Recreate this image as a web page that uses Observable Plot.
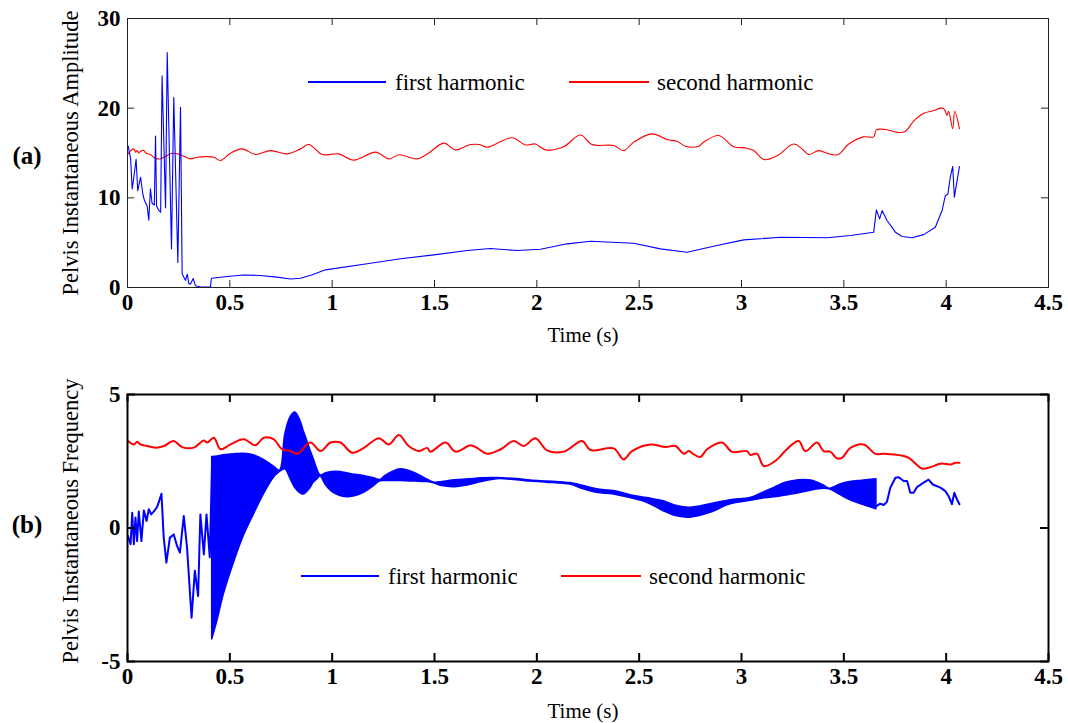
<!DOCTYPE html>
<html>
<head>
<meta charset="utf-8">
<script src="https://cdn.jsdelivr.net/npm/d3@7"></script>
<script src="https://cdn.jsdelivr.net/npm/@observablehq/plot@0.6"></script>
<style>
  html, body { margin: 0; padding: 0; background: #fff; }
  #wrap { position: relative; width: 1068px; height: 723px; background: #fff; overflow: hidden; }
  #wrap > .panel { position: absolute; left: 0; }
  #overlay { position: absolute; left: 0; top: 0; pointer-events: none; }
  #overlay text { font-family: "Liberation Serif", "Times New Roman", serif; fill: #000; }
</style>
</head>
<body>
<div id="wrap"></div>
<script>
// ---------------- data ----------------
const xTicks = [0, 0.5, 1, 1.5, 2, 2.5, 3, 3.5, 4, 4.5];
const ampTicks = [0, 10, 20, 30];
const freqTicks = [-5, 0, 5];
const seriesNames = ["first harmonic", "second harmonic"];

// (a) instantaneous amplitude, first harmonic  [time s, amplitude]
const ampFirst = [
  [0.003,15.8],[0.015,14.4],[0.023,11.0],[0.031,12.3],[0.042,14.3],[0.05,10.8],[0.064,12.3],
  [0.075,10.4],[0.083,9.7],[0.096,9.1],[0.104,7.5],[0.112,11.0],[0.12,9.4],[0.131,9.2],
  [0.137,16.9],[0.142,9.1],[0.153,8.6],[0.162,8.4],[0.169,23.6],[0.186,8.9],[0.194,26.2],
  [0.215,4.3],[0.226,21.2],[0.246,2.8],[0.259,20.1],[0.267,1.5],[0.283,0.8],[0.292,1.5],
  [0.3,0.4],[0.308,0.4],[0.321,1.0],[0.332,0.2],[0.357,0.05],[0.405,0.05],[0.41,1.03],
  [0.486,1.23],[0.568,1.4],[0.649,1.34],[0.73,1.16],[0.796,0.94],[0.845,1.03],[0.9,1.4],
  [0.967,1.97],[1.171,2.64],[1.334,3.2],[1.497,3.64],[1.66,4.12],[1.773,4.35],[1.904,4.12],
  [2.018,4.27],[2.148,4.87],[2.262,5.16],[2.473,4.94],[2.604,4.31],[2.734,3.94],[2.88,4.68],
  [3.011,5.31],[3.19,5.6],[3.418,5.54],[3.532,5.8],[3.646,6.17],[3.659,8.66],[3.675,7.65],
  [3.687,8.58],[3.711,7.47],[3.752,6.17],[3.785,5.69],[3.833,5.54],[3.89,5.9],[3.947,6.72],
  [3.98,8.58],[3.996,10.26],[4.008,10.4],[4.02,12.3],[4.032,13.5],[4.04,10.07],[4.065,13.5]
];

// (a) instantaneous amplitude, second harmonic
const ampSecond = [
  [0.003,14.9],[0.015,15.27],[0.031,15.46],[0.04,15.1],[0.047,15.27],[0.055,15.0],[0.063,15.2],
  [0.08,15.27],[0.09,15.0],[0.112,14.83],[0.137,14.4],[0.161,14.35],[0.178,14.53],[0.218,14.97],
  [0.259,14.8],[0.308,14.35],[0.34,14.53],[0.389,14.6],[0.422,14.53],[0.454,14.16],[0.503,14.97],
  [0.56,15.46],[0.625,14.83],[0.699,15.27],[0.78,14.9],[0.845,15.46],[0.886,15.94],[0.951,14.83],
  [1.032,14.9],[1.106,14.2],[1.212,15.1],[1.277,14.35],[1.326,14.8],[1.415,14.35],[1.472,15.0],
  [1.545,16.1],[1.602,15.35],[1.676,15.94],[1.72,15.94],[1.757,15.64],[1.879,16.7],[1.944,15.9],
  [1.993,16.0],[2.042,15.35],[2.131,15.7],[2.213,17.0],[2.27,15.94],[2.376,15.83],[2.425,15.27],
  [2.473,16.2],[2.563,17.13],[2.636,16.5],[2.685,16.3],[2.726,15.75],[2.791,15.75],[2.815,16.2],
  [2.889,16.95],[2.962,15.7],[3.019,15.57],[3.06,15.27],[3.109,14.27],[3.174,14.7],[3.255,16.0],
  [3.296,15.46],[3.328,14.83],[3.377,15.27],[3.418,14.97],[3.47,14.8],[3.524,16.0],[3.597,16.8],
  [3.646,16.8],[3.659,17.58],[3.711,17.6],[3.76,17.3],[3.8,17.4],[3.841,18.55],[3.89,19.43],
  [3.939,19.73],[3.972,20.0],[3.99,19.9],[4.004,19.2],[4.012,19.66],[4.032,17.7],[4.042,19.66],
  [4.065,17.7]
];

// (b) instantaneous frequency, first harmonic: thin start and end parts
const freqFirstStart = [
  [0.002,-0.3],[0.015,-0.61],[0.023,0.57],[0.031,-0.61],[0.039,0.39],[0.047,-0.49],[0.055,0.62],
  [0.068,-0.49],[0.08,0.66],[0.093,0.26],[0.104,0.7],[0.116,0.51],[0.129,0.62],[0.145,0.79],
  [0.166,1.28],[0.177,-0.36],[0.19,-1.3],[0.207,-0.36],[0.226,-0.24],[0.242,-0.67],[0.256,-0.92],
  [0.275,0.45],[0.291,-0.74],[0.313,-3.36],[0.329,-1.6],[0.345,-2.55],[0.356,0.51],[0.373,-0.99],
  [0.386,0.51],[0.402,-1.1],[0.414,2.66]
];
const freqFirstEnd = [
  [3.659,0.82],[3.678,0.91],[3.695,0.86],[3.711,0.99],[3.727,1.51],[3.752,1.88],[3.768,1.9],
  [3.792,1.76],[3.809,1.76],[3.825,1.32],[3.841,1.32],[3.857,1.53],[3.89,1.7],[3.914,1.81],
  [3.935,1.63],[3.972,1.51],[3.996,1.38],[4.012,1.19],[4.028,0.89],[4.04,1.32],[4.053,1.07],
  [4.065,0.89]
];
// (b) first harmonic, fast-oscillating part: [time, lower envelope, upper envelope]
const freqFirstBand = [
  [0.414,-4.17,2.66],[0.44,-3.45,2.68],[0.47,-2.5,2.72],[0.52,-1.3,2.76],[0.568,-0.3,2.78],
  [0.617,0.5,2.72],[0.666,1.26,2.55],[0.715,1.88,2.3],[0.745,2.1,2.15],[0.771,2.2,3.5],
  [0.796,1.85,4.13],[0.82,1.5,4.32],[0.845,1.3,4.0],[0.862,1.26,3.6],[0.878,1.35,3.26],
  [0.894,1.5,2.9],[0.91,1.7,2.57],[0.927,1.82,2.2],[0.943,1.93,1.97],[0.97,1.6,2.05],
  [1.0,1.35,2.1],[1.04,1.2,2.1],[1.089,1.16,2.02],[1.155,1.32,1.95],[1.204,1.57,1.86],
  [1.236,1.75,1.8],[1.26,1.76,1.95],[1.334,1.76,2.2],[1.4,1.74,2.07],[1.464,1.72,1.82],
  [1.497,1.68,1.7],[1.537,1.57,1.72],[1.6,1.53,1.79],[1.667,1.6,1.82],[1.73,1.72,1.86],
  [1.806,1.83,1.87],[1.9,1.79,1.83],[1.97,1.74,1.78],[2.05,1.7,1.74],[2.13,1.66,1.7],
  [2.163,1.63,1.68],[2.229,1.45,1.57],[2.294,1.32,1.45],[2.376,1.26,1.38],[2.457,1.12,1.23],
  [2.538,0.95,1.12],[2.62,0.63,1.0],[2.685,0.44,0.82],[2.75,0.39,0.76],[2.848,0.57,0.89],
  [2.946,0.89,1.04],[3.043,1.02,1.12],[3.1,1.1,1.3],[3.16,1.15,1.5],[3.22,1.22,1.7],
  [3.28,1.3,1.79],[3.34,1.4,1.78],[3.4,1.47,1.6],[3.43,1.45,1.47],[3.48,1.25,1.62],
  [3.53,1.05,1.72],[3.59,0.88,1.77],[3.659,0.7,1.82]
];

// (b) instantaneous frequency, second harmonic
const freqSecond = [
  [0.003,3.26],[0.031,3.13],[0.047,3.23],[0.063,3.13],[0.096,3.07],[0.137,3.01],[0.178,3.07],
  [0.226,3.26],[0.267,3.03],[0.324,3.01],[0.373,3.28],[0.389,3.2],[0.422,3.38],[0.454,2.95],
  [0.503,3.13],[0.568,3.32],[0.625,3.1],[0.666,3.38],[0.715,3.32],[0.755,2.95],[0.796,2.88],
  [0.829,2.78],[0.894,3.2],[0.943,2.88],[0.992,3.2],[1.04,3.2],[1.098,2.82],[1.155,3.0],
  [1.228,3.36],[1.277,3.13],[1.326,3.48],[1.374,3.07],[1.423,2.88],[1.464,3.0],[1.48,2.86],
  [1.554,3.2],[1.603,2.86],[1.676,3.1],[1.708,3.0],[1.757,2.78],[1.822,2.94],[1.887,3.26],
  [1.936,3.07],[1.993,3.36],[2.05,2.91],[2.132,2.86],[2.221,3.26],[2.262,2.92],[2.376,2.98],
  [2.424,2.57],[2.465,2.88],[2.555,3.13],[2.628,3.03],[2.677,3.07],[2.718,2.78],[2.742,2.88],
  [2.767,2.76],[2.799,2.66],[2.832,2.95],[2.905,3.2],[2.954,2.85],[3.027,2.88],[3.043,2.74],
  [3.076,2.78],[3.109,2.32],[3.165,2.51],[3.222,2.95],[3.279,3.26],[3.312,2.88],[3.369,3.2],
  [3.401,2.88],[3.434,2.86],[3.466,2.61],[3.491,2.63],[3.532,3.0],[3.597,3.13],[3.654,2.78],
  [3.695,2.78],[3.809,2.66],[3.882,2.23],[3.923,2.28],[3.972,2.41],[4.021,2.38],[4.045,2.44],
  [4.065,2.44]
];

const BLUE = "#0000ff", RED = "#ff0000";

// ---------------- layout ----------------
const W = 1068, ML = 127, MR = 20;
const wrap = document.getElementById("wrap");

function inwardTicks(plotW, plotH, yTicks, stroke, sw, len) {
  return [
    Plot.ruleX(xTicks, {x: d => d, insetTop: plotH - len, stroke, strokeWidth: sw}),
    Plot.ruleX(xTicks, {x: d => d, insetBottom: plotH - len, stroke, strokeWidth: sw}),
    Plot.ruleY(yTicks, {y: d => d, insetRight: plotW - len, stroke, strokeWidth: sw}),
    Plot.ruleY(yTicks, {y: d => d, insetLeft: plotW - len, stroke, strokeWidth: sw})
  ];
}

const plotStyle = {
  fontFamily: "'Liberation Serif', 'Times New Roman', serif",
  fontSize: "23px",
  fontWeight: "bold",
  background: "transparent",
  color: "#000",
  overflow: "visible"
};

// Panel (a)
const HA = 350, MTA = 18, MBA = 63;
const plotA = Plot.plot({
  width: W, height: HA, marginLeft: ML, marginRight: MR, marginTop: MTA, marginBottom: MBA,
  style: plotStyle,
  x: {domain: [0, 4.5]},
  y: {domain: [0, 30]},
  marks: [
    Plot.line(ampSecond, {x: d => d[0], y: d => d[1], stroke: RED, strokeWidth: 1.1, curve: "catmull-rom"}),
    Plot.line(ampFirst, {x: d => d[0], y: d => d[1], stroke: BLUE, strokeWidth: 1.1}),
    Plot.frame({stroke: "#222", strokeWidth: 1}),
    ...inwardTicks(W - ML - MR, HA - MTA - MBA, ampTicks, "#222", 1, 7),
    Plot.axisX({ticks: xTicks, tickSize: 0, tickPadding: 6, tickFormat: d => String(d), label: null}),
    Plot.axisY({ticks: ampTicks, tickSize: 0, tickPadding: 7, tickFormat: d => String(d), label: null})
  ]
});
plotA.classList.add("panel");
plotA.style.top = "0px";
wrap.appendChild(plotA);

// Panel (b)
const TOPB = 360, HB = 363, MTB = 34, MBB = 62;
const plotB = Plot.plot({
  width: W, height: HB, marginLeft: ML, marginRight: MR, marginTop: MTB, marginBottom: MBB,
  style: plotStyle,
  x: {domain: [0, 4.5]},
  y: {domain: [-5, 5]},
  marks: [
    Plot.areaY(freqFirstBand, {x: d => d[0], y1: d => d[1], y2: d => d[2], fill: BLUE,
      stroke: BLUE, strokeWidth: 1.6, curve: "catmull-rom"}),
    Plot.line(freqFirstStart, {x: d => d[0], y: d => d[1], stroke: BLUE, strokeWidth: 2}),
    Plot.line(freqFirstEnd, {x: d => d[0], y: d => d[1], stroke: BLUE, strokeWidth: 2}),
    Plot.line(freqSecond, {x: d => d[0], y: d => d[1], stroke: RED, strokeWidth: 2, curve: "catmull-rom"}),
    Plot.frame({stroke: "#000", strokeWidth: 2}),
    ...inwardTicks(W - ML - MR, HB - MTB - MBB, freqTicks, "#000", 2, 8),
    Plot.axisX({ticks: xTicks, tickSize: 0, tickPadding: 6, tickFormat: d => String(d), label: null}),
    Plot.axisY({ticks: freqTicks, tickSize: 0, tickPadding: 7, tickFormat: d => String(d), label: null})
  ]
});
plotB.classList.add("panel");
plotB.style.top = TOPB + "px";
wrap.appendChild(plotB);

// ---------------- labels & legends (real text) ----------------
const ns = "http://www.w3.org/2000/svg";
const ov = document.createElementNS(ns, "svg");
ov.setAttribute("id", "overlay");
ov.setAttribute("width", W);
ov.setAttribute("height", 723);
wrap.appendChild(ov);

function txt(str, x, y, opts = {}) {
  const t = document.createElementNS(ns, "text");
  t.textContent = str;
  t.setAttribute("x", 0);
  t.setAttribute("y", 0);
  t.setAttribute("font-size", opts.size || 21);
  if (opts.bold) t.setAttribute("font-weight", "bold");
  t.setAttribute("text-anchor", opts.anchor || "start");
  t.setAttribute("transform", `translate(${x},${y})` + (opts.rotate ? ` rotate(${opts.rotate})` : ""));
  ov.appendChild(t);
}
function seg(x1, x2, y, color) {
  const l = document.createElementNS(ns, "line");
  l.setAttribute("x1", x1); l.setAttribute("x2", x2);
  l.setAttribute("y1", y); l.setAttribute("y2", y);
  l.setAttribute("stroke", color); l.setAttribute("stroke-width", 2);
  ov.appendChild(l);
}

txt("(a)", 27, 164, {size: 25, bold: true, anchor: "middle"});
txt("(b)", 27, 533, {size: 25, bold: true, anchor: "middle"});
txt("Pelvis Instantaneous Amplitude", 78, 153, {size: 22.5, anchor: "middle", rotate: -90});
txt("Pelvis Instantaneous Frequency", 78, 521, {size: 22.5, anchor: "middle", rotate: -90});
txt("Time (s)", 583, 342, {size: 21, anchor: "middle"});
txt("Time (s)", 583, 718, {size: 21, anchor: "middle"});

// legend (a)
seg(308, 386, 82, BLUE);
txt(seriesNames[0], 395, 90, {size: 23});
seg(569, 649, 82, RED);
txt(seriesNames[1], 657, 90, {size: 23});
// legend (b)
seg(301, 379, 576, BLUE);
txt(seriesNames[0], 388, 584, {size: 23});
seg(561, 641, 576, RED);
txt(seriesNames[1], 649, 584, {size: 23});
</script>
</body>
</html>
